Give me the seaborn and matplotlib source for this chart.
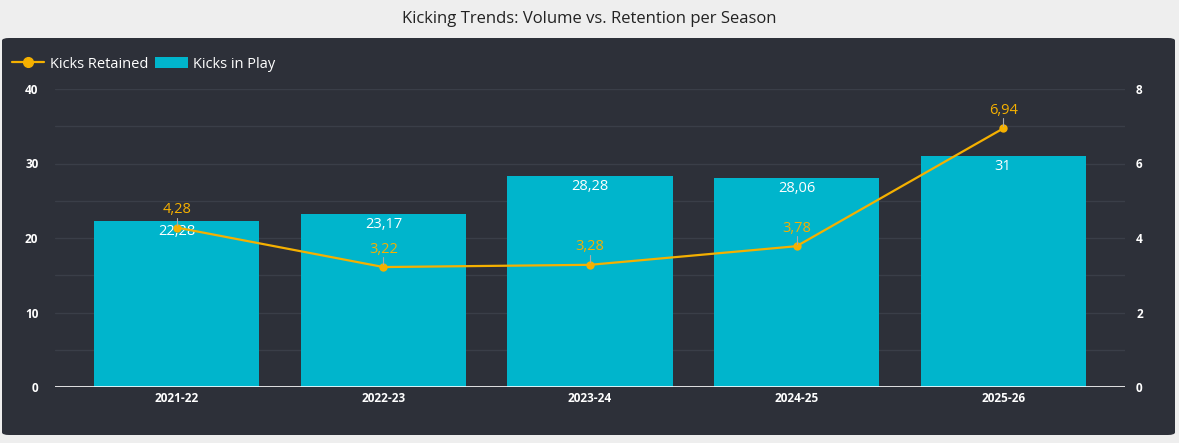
import matplotlib
matplotlib.use('Agg')
import matplotlib.pyplot as plt
import seaborn as sns
import pandas as pd
from matplotlib.patches import FancyBboxPatch, Patch
from matplotlib.lines import Line2D

seasons = ['2021-22', '2022-23', '2023-24', '2024-25', '2025-26']
kicks_in_play = [22.28, 23.17, 28.28, 28.06, 31]
kicks_retained = [4.28, 3.22, 3.28, 3.78, 6.94]

bar_color = '#00b5cc'
line_color = '#f5b000'
panel_color = '#2d3039'
grid_color = '#3a3e48'

sns.set_theme(style='dark')
plt.rcParams['font.family'] = ['Open Sans', 'DejaVu Sans']

df = pd.DataFrame({'season': seasons, 'play': kicks_in_play, 'retained': kicks_retained})

def fmt(v):
    s = f'{v:.2f}'.rstrip('0').rstrip('.')
    return s.replace('.', ',')

fig = plt.figure(figsize=(11.79, 4.43), dpi=100)
fig.patch.set_facecolor('#eeeeee')
panel = FancyBboxPatch((2 / 1179, 8 / 443), 1173 / 1179, 397 / 443,
                       boxstyle='round,pad=0,rounding_size=0.006',
                       transform=fig.transFigure, facecolor=panel_color,
                       edgecolor='none', zorder=-5)
fig.patches.append(panel)
fig.text(0.5, 1 - 19 / 443, 'Kicking Trends: Volume vs. Retention per Season',
         ha='center', va='center', fontsize=12, color='#222222')

ax = fig.add_axes([55 / 1179, 1 - 387 / 443, 1070 / 1179, 298 / 443])
ax.set_facecolor('none')
sns.barplot(data=df, x='season', y='play', color=bar_color, width=0.8,
            saturation=1, linewidth=0, edgecolor='none', ax=ax, zorder=2)
ax.set_ylim(0, 40)
ax.set_xlim(-0.59, 4.59)
ax.set_yticks(range(0, 41, 10))
ax.set_yticks(range(0, 41, 5), minor=True)
ax.grid(True, axis='y', which='both', color=grid_color, linewidth=1, zorder=0)
ax.set_axisbelow(True)
ax.set_xlabel('')
ax.set_ylabel('')
for s in ax.spines.values():
    s.set_visible(False)
ax.axhline(0, color='white', linewidth=1.2, zorder=3)
ax.tick_params(axis='both', which='both', length=0, colors='white', labelsize=8.5)
ax.tick_params(axis='y', pad=12)
for lab in ax.get_xticklabels() + ax.get_yticklabels():
    lab.set_fontweight('bold')
for i, v in enumerate(kicks_in_play):
    ax.text(i, v - 0.35, fmt(v), ha='center', va='top', color='white', fontsize=10.5, zorder=4)

ax2 = ax.twinx()
sns.lineplot(data=df, x='season', y='retained', color=line_color, marker='o',
             markersize=6, markeredgewidth=0, linewidth=1.6, ax=ax2, zorder=5)
ax2.set_ylim(0, 8)
ax2.set_yticks(range(0, 9, 2))
ax2.set_ylabel('')
for s in ax2.spines.values():
    s.set_visible(False)
ax2.tick_params(axis='y', length=0, colors='white', labelsize=8.5, pad=8)
for lab in ax2.get_yticklabels():
    lab.set_fontweight('bold')
for i, v in enumerate(kicks_retained):
    ax2.plot([i, i], [v + 0.07, v + 0.27], color='#aaaaaa', linewidth=0.8, zorder=5)
    ax2.text(i, v + 0.28, fmt(v), ha='center', va='bottom', color=line_color,
             fontsize=10.5, zorder=6)

handles = [Line2D([0], [0], color=line_color, marker='o', markersize=7, linewidth=1.6),
           Patch(facecolor=bar_color, edgecolor='none')]
fig.legend(handles, ['Kicks Retained', 'Kicks in Play'], loc='center left',
           bbox_to_anchor=(6 / 1179, 1 - 64 / 443), ncol=2, frameon=False,
           fontsize=10.5, labelcolor='white', handlelength=2.2, columnspacing=0.5,
           handletextpad=0.4, borderaxespad=0)

fig.savefig('out.png', dpi=100, facecolor=fig.get_facecolor())
